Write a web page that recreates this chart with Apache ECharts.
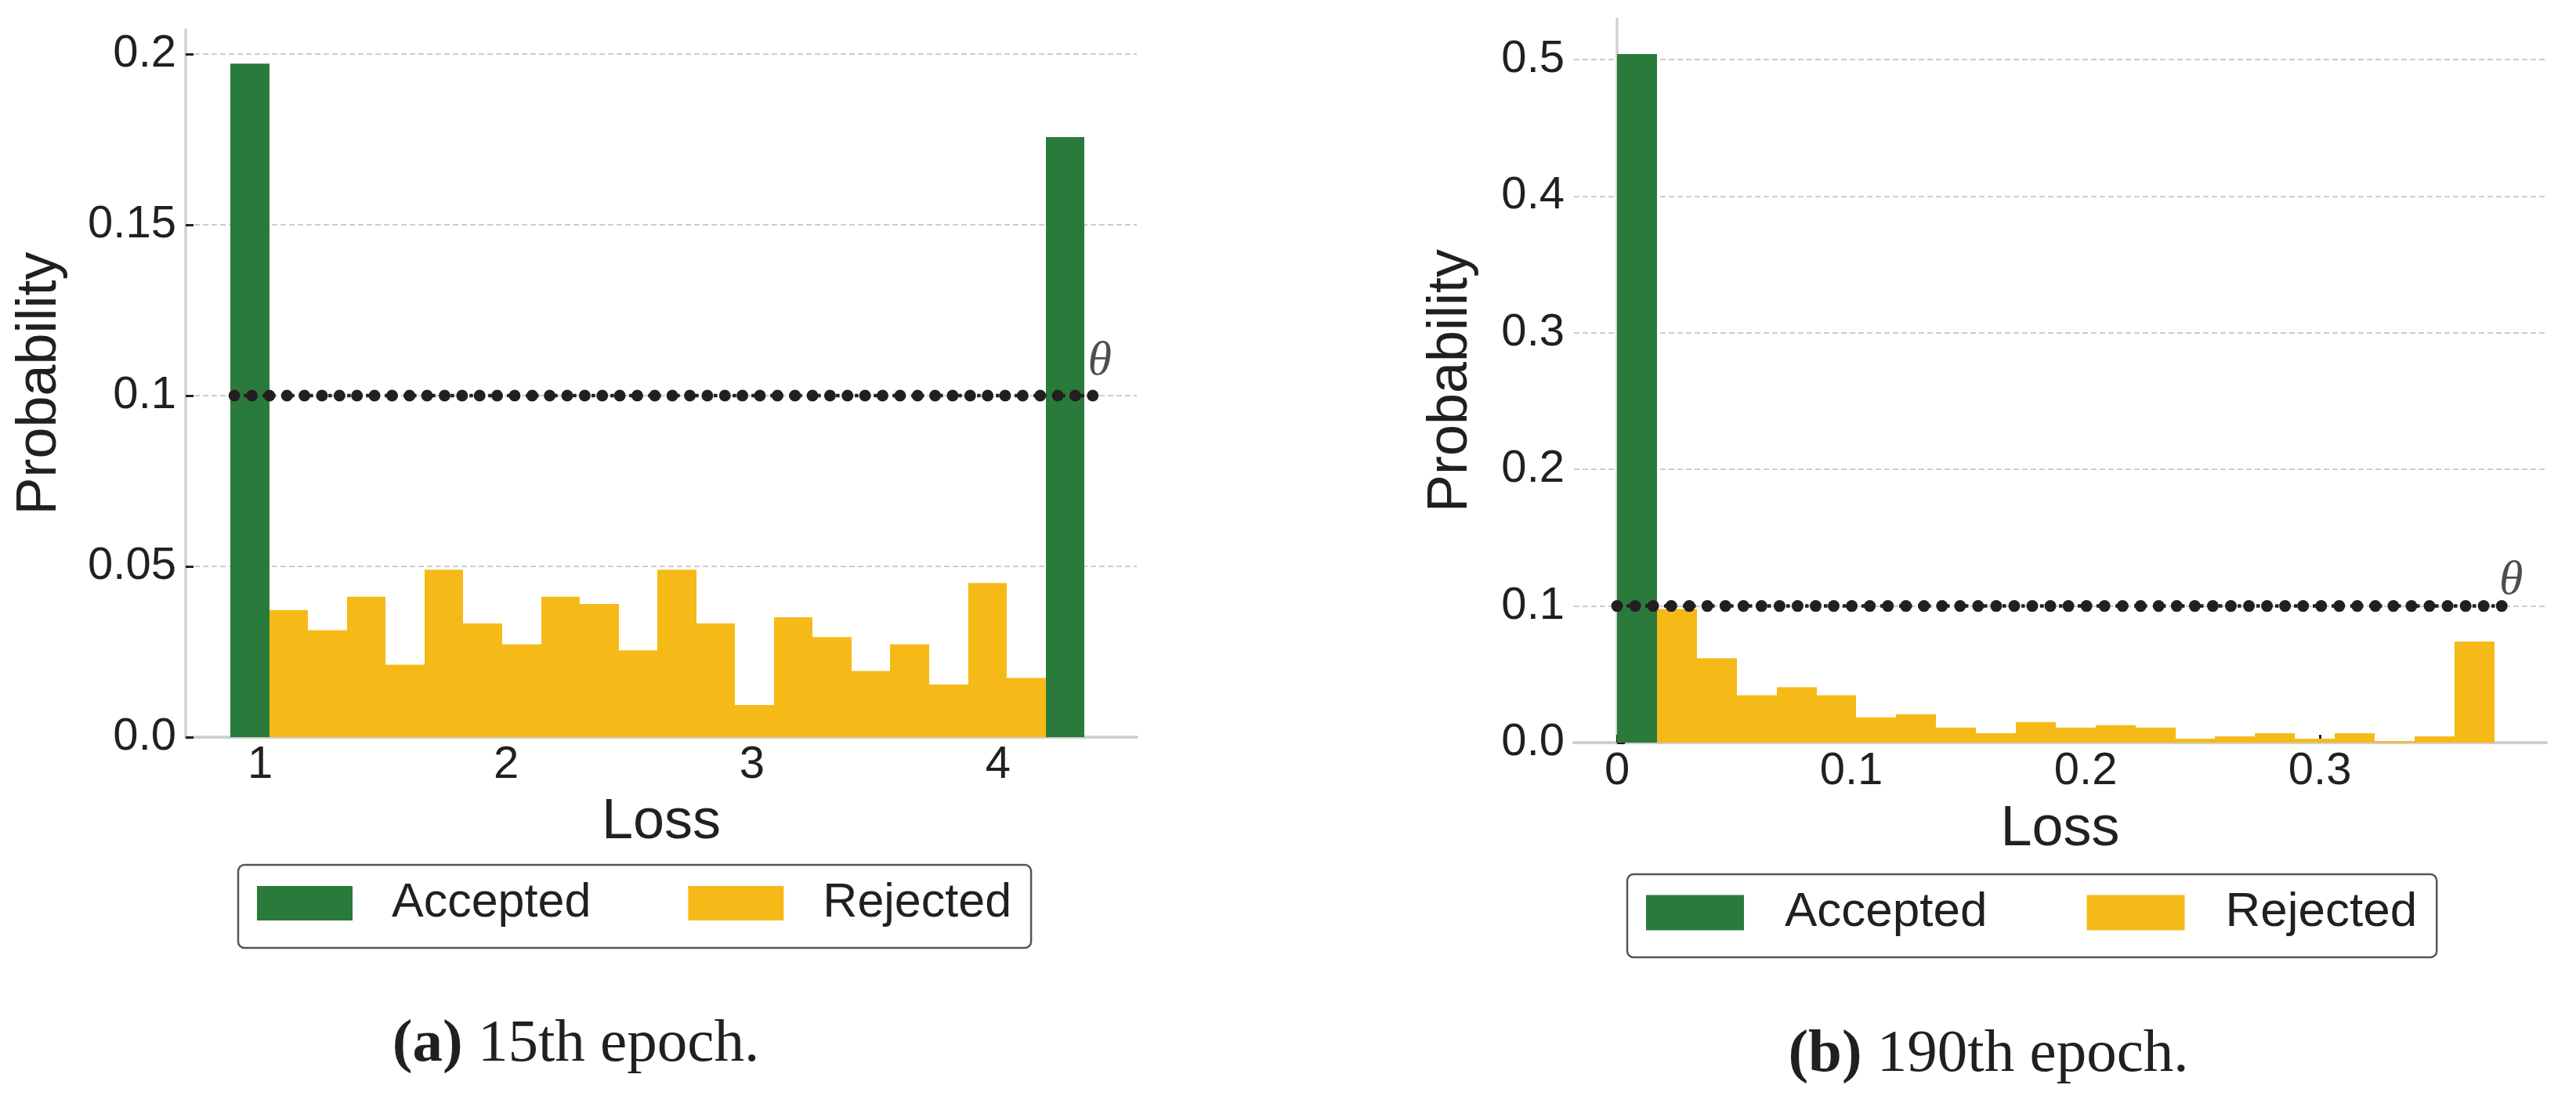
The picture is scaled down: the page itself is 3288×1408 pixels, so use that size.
<!DOCTYPE html>
<html><head><meta charset="utf-8">
<script src="https://cdn.jsdelivr.net/npm/echarts@6/dist/echarts.min.js"></script>
<style>html,body{margin:0;padding:0;background:#fff}#c{width:3288px;height:1408px}</style>
</head><body><div id="c"></div>
<script>
// ---------- data ----------
const seriesNames = ['Accepted', 'Rejected'];

// (a) 15th epoch : histogram bin edges and probabilities
const leftEdges = [0.879, 1.0368, 1.1946, 1.3525, 1.5103, 1.6681, 1.8259, 1.9837, 2.1416, 2.2994, 2.4572, 2.6150,
                   2.7728, 2.9307, 3.0885, 3.2463, 3.4041, 3.5619, 3.7198, 3.8776, 4.0354, 4.1932, 4.3510];
const leftProb = [0.1972, 0.0372, 0.0313, 0.0411, 0.0212, 0.0490, 0.0333, 0.0272, 0.0411, 0.0390, 0.0254,
                  0.0490, 0.0333, 0.0094, 0.0351, 0.0293, 0.0194, 0.0272, 0.0154, 0.0451, 0.0173, 0.1757];
const leftAcceptedBins = [0, 21];
const leftXTicks = [1, 2, 3, 4];
const leftXTickLabels = ['1', '2', '3', '4'];
const leftYTicks = [0, 0.05, 0.1, 0.15, 0.2];
const leftYTickLabels = ['0.0', '0.05', '0.1', '0.15', '0.2'];
const leftThetaRange = [0.895, 4.385];

// (b) 190th epoch
const rightEdges = [0, 0.0170, 0.0340, 0.0511, 0.0681, 0.0851, 0.1021, 0.1191, 0.1362, 0.1532, 0.1702, 0.1872,
                    0.2043, 0.2213, 0.2383, 0.2553, 0.2723, 0.2894, 0.3064, 0.3234, 0.3404, 0.3574, 0.3745];
const rightProb = [0.504, 0.0977, 0.0618, 0.0347, 0.0405, 0.0347, 0.0185, 0.0208, 0.0110, 0.0069, 0.0150,
                   0.0110, 0.0127, 0.0110, 0.0029, 0.0046, 0.0069, 0.0029, 0.0069, 0.0012, 0.0046, 0.0740];
const rightAcceptedBins = [0];
const rightXTicks = [0, 0.1, 0.2, 0.3];
const rightXTickLabels = ['0', '0.1', '0.2', '0.3'];
const rightYTicks = [0, 0.1, 0.2, 0.3, 0.4, 0.5];
const rightYTickLabels = ['0.0', '0.1', '0.2', '0.3', '0.4', '0.5'];
const rightThetaRange = [0.0, 0.3776];

const theta = 0.1;
const thetaSymbol = 'θ';
const xName = 'Loss';
const yName = 'Probability';
const captionLetters = ['(a)', '(b)'];
const captionTexts = [' 15th epoch.', ' 190th epoch.'];

// ---------- styles ----------
const GREEN = '#2a7b3b', YELLOW = '#f5b918', INK = '#231f20';
const SANS = 'Liberation Sans, Arial, sans-serif';
const SERIF = 'Liberation Serif, Times New Roman, serif';
const DOTS = 50;        // marker count along the threshold line (style)
const DOT_R = 7.5;      // marker radius, px

function binData(edges, prob, acceptedIdx, accepted) {
  const out = [];
  prob.forEach((p, i) => {
    if (acceptedIdx.includes(i) === accepted) out.push([edges[i], edges[i + 1], p]);
  });
  return out;
}
function renderBin(params, api) {
  const a = api.coord([api.value(0), api.value(2)]);
  const b = api.coord([api.value(1), 0]);
  const x0 = Math.round(a[0]), x1 = Math.round(b[0]);
  return { type: 'rect', shape: { x: x0, y: a[1], width: x1 - x0, height: b[1] - a[1] },
           style: { fill: api.visual('color') } };
}
// threshold line: dotted stroke between the two ends, with evenly spaced round markers
function renderTheta(params, api) {
  const p0 = api.coord([api.value(0), api.value(2)]);
  const p1 = api.coord([api.value(1), api.value(2)]);
  const children = [{ type: 'line', shape: { x1: p0[0], y1: p0[1], x2: p1[0], y2: p1[1] },
                      style: { stroke: INK, lineWidth: 4.5, lineDash: [4.5, 7.5] } }];
  for (let i = 0; i < DOTS; i++) {
    const t = i / (DOTS - 1);
    children.push({ type: 'circle', shape: { cx: p0[0] + (p1[0] - p0[0]) * t, cy: p0[1], r: DOT_R },
                    style: { fill: INK } });
  }
  return { type: 'group', children: children };
}
function pick(ticks, labels) {
  return v => { const i = ticks.findIndex(t => Math.abs(t - v) < 1e-9); return i >= 0 ? labels[i] : ''; };
}
function xAxis(gi, min, max, ticks, labels, margin, nameGap) {
  return {
    type: 'value', gridIndex: gi, min: min, max: max, offset: 2,
    name: xName, nameLocation: 'middle', nameGap: nameGap,
    nameTextStyle: { fontFamily: SANS, fontSize: 72, color: INK },
    axisLine: { show: true, lineStyle: { color: '#d0d0d0', width: 4 } },
    axisTick: { show: true, inside: true, length: 10, customValues: ticks, lineStyle: { color: INK, width: 3 } },
    axisLabel: { show: true, margin: margin, customValues: ticks, formatter: pick(ticks, labels),
                 fontFamily: SANS, fontSize: 58, color: INK },
    splitLine: { show: false }
  };
}
function yAxis(gi, max, ticks, labels, nameGap) {
  return {
    type: 'value', gridIndex: gi, min: 0, max: max,
    name: yName, nameLocation: 'middle', nameGap: nameGap,
    nameTextStyle: { fontFamily: SANS, fontSize: 72, color: INK },
    axisLine: { show: true, lineStyle: { color: '#d0d0d0', width: 3.5 } },
    axisTick: { show: true, inside: true, length: 10, customValues: ticks, lineStyle: { color: INK, width: 3 } },
    axisLabel: { show: true, margin: 12, customValues: ticks, formatter: pick(ticks, labels),
                 fontFamily: SANS, fontSize: 58, color: INK },
    splitLine: { show: true, lineStyle: { color: '#cccccc', width: 2, type: [7, 4] } }
  };
}
function legend(left, top, iw, ih, gap, fs, tpad) {
  return {
    left: left, top: top, orient: 'horizontal', selectedMode: false,
    data: [{ name: seriesNames[0], icon: 'rect', itemStyle: { color: GREEN } },
           { name: seriesNames[1], icon: 'rect', itemStyle: { color: YELLOW } }],
    itemWidth: iw, itemHeight: ih, itemGap: gap,
    padding: [14, 25, 22, 24], borderColor: '#555555', borderWidth: 2.5, borderRadius: 8,
    backgroundColor: '#ffffff',
    textStyle: { fontFamily: SANS, fontSize: fs, color: INK, lineHeight: 70, padding: [0, 0, 0, tpad] }
  };
}
function thetaSeries(gi, range, labelOffset) {
  return [
    { type: 'custom', xAxisIndex: gi, yAxisIndex: gi, renderItem: renderTheta, z: 5, silent: true,
      encode: { x: [0, 1], y: 2 }, data: [[range[0], range[1], theta]] },
    { type: 'scatter', xAxisIndex: gi, yAxisIndex: gi, data: [[range[1], theta]],
      symbolSize: 1, itemStyle: { color: 'rgba(0,0,0,0)' }, z: 7, silent: true,
      label: { show: true, position: 'inside', formatter: thetaSymbol, offset: labelOffset,
               fontFamily: SERIF, fontStyle: 'italic', fontSize: 62, color: INK } }
  ];
}

const chart = echarts.init(document.getElementById('c'), null, { renderer: 'canvas' });
chart.setOption({
  animation: false,
  backgroundColor: '#ffffff',
  grid: [
    { left: 237, top: 38, width: 1214, height: 903 },
    { left: 2009, top: 24, width: 1241, height: 924 }
  ],
  xAxis: [
    xAxis(0, 0.697, 4.564, leftXTicks, leftXTickLabels, 5, 71),
    xAxis(1, -0.0184, 0.3966, rightXTicks, rightXTickLabels, 6, 73)
  ],
  yAxis: [
    yAxis(0, 0.2071, leftYTicks, leftYTickLabels, 150),
    yAxis(1, 0.5298, rightYTicks, rightYTickLabels, 121)
  ],
  legend: [
    legend(304, 1104, 122, 44, 124, 61, 45),
    legend(2077, 1116, 125, 45, 127, 62, 47)
  ],
  series: [
    { name: seriesNames[0], type: 'custom', xAxisIndex: 0, yAxisIndex: 0, renderItem: renderBin,
      itemStyle: { color: GREEN }, encode: { x: [0, 1], y: 2 }, data: binData(leftEdges, leftProb, leftAcceptedBins, true), z: 2 },
    { name: seriesNames[1], type: 'custom', xAxisIndex: 0, yAxisIndex: 0, renderItem: renderBin,
      itemStyle: { color: YELLOW }, encode: { x: [0, 1], y: 2 }, data: binData(leftEdges, leftProb, leftAcceptedBins, false), z: 2 },
    { name: seriesNames[0], type: 'custom', xAxisIndex: 1, yAxisIndex: 1, renderItem: renderBin,
      itemStyle: { color: GREEN }, encode: { x: [0, 1], y: 2 }, data: binData(rightEdges, rightProb, rightAcceptedBins, true), z: 2 },
    { name: seriesNames[1], type: 'custom', xAxisIndex: 1, yAxisIndex: 1, renderItem: renderBin,
      itemStyle: { color: YELLOW }, encode: { x: [0, 1], y: 2 }, data: binData(rightEdges, rightProb, rightAcceptedBins, false), z: 2 }
  ].concat(thetaSeries(0, leftThetaRange, [9, -43]), thetaSeries(1, rightThetaRange, [12, -32])),
  graphic: [
    { type: 'text', x: 735, y: 1334, style: {
        text: '{b|' + captionLetters[0] + '}' + captionTexts[0], align: 'center', verticalAlign: 'middle',
        font: '77px ' + SERIF, fill: INK,
        rich: { b: { fontWeight: 'bold', fontFamily: SERIF, fontSize: 77, fill: INK } } } },
    { type: 'text', x: 2538, y: 1347, style: {
        text: '{b|' + captionLetters[1] + '}' + captionTexts[1], align: 'center', verticalAlign: 'middle',
        font: '77px ' + SERIF, fill: INK,
        rich: { b: { fontWeight: 'bold', fontFamily: SERIF, fontSize: 77, fill: INK } } } }
  ]
});
</script></body></html>
